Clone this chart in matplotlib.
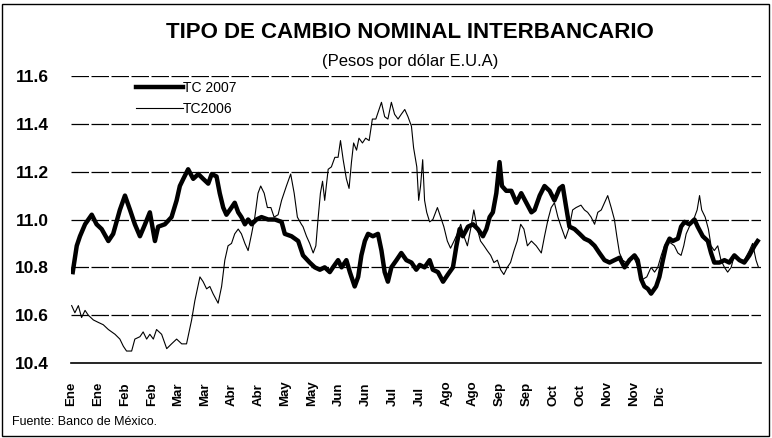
import matplotlib
matplotlib.use('Agg')
import matplotlib.pyplot as plt
from matplotlib.patches import Rectangle

# Dia habil (indice) y tipo de cambio
dias_2007 = [0.5, 2.0, 3.2, 5.1, 7.6, 9.4, 11.3, 13.8, 15.6, 18.1, 20.0, 21.9, 23.7, 25.6, 27.5,
             29.3, 31.2, 32.4, 34.9, 37.4, 39.3, 40.5, 41.8, 43.6, 45.5, 47.4, 49.2, 51.1, 52.4,
             54.2, 55.4, 56.7, 57.9, 59.8, 61.0, 62.3, 63.5, 64.8, 66.0, 67.3, 69.1, 71.0, 73.5,
             76.0, 78.5, 79.7, 82.2, 84.7, 86.5, 89.0, 90.9, 92.8, 94.6, 96.5, 97.7, 99.6, 100.9,
             102.7, 104.0, 105.8, 107.1, 108.3, 109.6, 110.8, 112.6, 114.5, 115.8, 117.0, 118.2,
             119.5, 121.4, 123.2, 125.1, 127.0, 128.8, 130.1, 131.9, 133.8, 135.0, 136.9, 138.8,
             140.6, 142.5, 143.8, 145.0, 146.2, 148.1, 150.0, 151.8, 153.7, 155.0, 156.2, 157.4,
             158.7, 159.9, 160.8, 162.4, 164.3, 166.2, 168.0, 169.9, 171.8, 173.0, 174.9, 176.7,
             178.6, 180.4, 182.3, 183.5, 184.8, 186.0, 187.9, 189.8, 191.6, 193.5, 195.4, 197.2,
             199.1, 201.0, 202.8, 204.7, 206.6, 208.4, 210.3, 211.5, 212.8, 214.0, 215.3, 216.5,
             218.4, 219.6, 220.9, 222.1, 223.4, 224.6, 226.5, 227.7, 229.0, 230.8, 232.7, 233.9,
             235.8, 237.7, 238.9, 240.1, 242.0, 243.9, 245.7, 247.6, 249.5, 251.3, 253.2, 255.1,
             256.3]
tc_2007 = [10.78, 10.89, 10.93, 10.98, 11.02, 10.98, 10.96, 10.91, 10.94, 11.04, 11.10, 11.04, 10.98,
           10.93, 10.98, 11.03, 10.91, 10.97, 10.98, 11.01, 11.08, 11.14, 11.17, 11.21, 11.17, 11.19,
           11.17, 11.15, 11.19, 11.18, 11.11, 11.05, 11.02, 11.05, 11.07, 11.03, 11.01, 10.98, 11.00,
           10.98, 11.00, 11.01, 11.00, 11.00, 10.99, 10.94, 10.93, 10.91, 10.85, 10.82, 10.80, 10.79,
           10.80, 10.78, 10.80, 10.83, 10.80, 10.83, 10.78, 10.72, 10.76, 10.85, 10.91, 10.94, 10.93,
           10.94, 10.87, 10.78, 10.74, 10.80, 10.83, 10.86, 10.83, 10.82, 10.79, 10.81, 10.80, 10.83,
           10.79, 10.78, 10.74, 10.77, 10.80, 10.89, 10.96, 10.93, 10.97, 10.98, 10.96, 10.93, 10.96,
           11.01, 11.03, 11.11, 11.24, 11.14, 11.12, 11.12, 11.07, 11.11, 11.07, 11.03, 11.04, 11.10,
           11.14, 11.12, 11.08, 11.13, 11.14, 11.05, 10.97, 10.96, 10.94, 10.92, 10.91, 10.89, 10.86,
           10.83, 10.82, 10.83, 10.84, 10.80, 10.83, 10.85, 10.83, 10.75, 10.72, 10.71, 10.69, 10.72,
           10.76, 10.83, 10.89, 10.92, 10.91, 10.92, 10.97, 10.99, 10.98, 11.00, 10.97, 10.93, 10.91,
           10.86, 10.82, 10.82, 10.83, 10.82, 10.85, 10.83, 10.82, 10.85, 10.89, 10.91]

dias_2006 = [0.1, 1.3, 2.6, 3.8, 5.1, 6.3, 8.2, 10.0, 11.9, 13.8, 16.3, 18.1, 19.4, 20.6, 22.5, 23.7,
             25.6, 26.8, 28.1, 29.3, 30.6, 31.8, 33.7, 35.6, 37.4, 39.3, 41.2, 43.0, 44.9, 46.1,
             48.0, 49.2, 50.5, 51.7, 52.9, 54.8, 56.1, 57.3, 58.5, 59.8, 61.0, 62.3, 63.5, 64.8,
             66.0, 67.3, 68.5, 69.7, 70.7, 72.0, 73.2, 74.5, 75.7, 77.2, 78.5, 80.3, 81.9, 83.2,
             84.4, 85.9, 86.5, 87.8, 89.0, 90.3, 91.3, 92.1, 93.0, 93.8, 94.6, 95.9, 97.1, 98.4,
             99.6, 100.5, 101.5, 102.7, 103.7, 104.6, 105.4, 106.5, 107.4, 108.7, 109.9, 111.2,
             112.4, 113.7, 114.9, 115.8, 117.0, 118.2, 119.5, 120.7, 122.0, 123.2, 124.5, 125.7,
             127.0, 127.8, 129.0, 129.7, 130.4, 131.2, 131.9, 132.7, 133.8, 135.0, 136.7, 137.9,
             139.1, 140.4, 141.6, 142.9, 144.1, 145.4, 146.6, 147.9, 149.1, 150.3, 151.6, 152.8,
             154.1, 155.3, 156.6, 157.8, 159.1, 160.3, 161.5, 162.8, 164.0, 165.3, 166.5, 167.8,
             169.0, 170.3, 171.8, 173.6, 175.5, 176.7, 178.0, 179.2, 180.4, 181.7, 182.9, 184.5,
             186.0, 187.2, 188.5, 190.3, 191.6, 192.8, 194.1, 195.4, 196.6, 197.9, 199.1, 200.3,
             201.6, 202.8, 203.7, 204.7, 205.9, 207.2, 208.4, 209.7, 210.9, 212.2, 213.4, 214.9,
             216.5, 217.8, 219.0, 220.3, 221.5, 222.7, 224.0, 225.2, 226.5, 227.7, 228.7, 229.6,
             230.8, 232.4, 233.7, 234.6, 235.4, 236.7, 237.9, 238.9, 240.1, 241.4, 242.6, 243.9,
             245.1, 246.4, 247.6, 249.5, 251.3, 253.2, 254.4, 255.7, 256.6]
tc_2006 = [10.64, 10.61, 10.64, 10.59, 10.62, 10.60, 10.58, 10.57, 10.56, 10.54, 10.52, 10.50, 10.47,
           10.45, 10.45, 10.50, 10.51, 10.53, 10.50, 10.52, 10.50, 10.54, 10.52, 10.46, 10.48, 10.50,
           10.48, 10.48, 10.58, 10.66, 10.76, 10.74, 10.71, 10.72, 10.69, 10.65, 10.72, 10.83, 10.89,
           10.90, 10.94, 10.96, 10.94, 10.90, 10.87, 10.94, 11.01, 11.11, 11.14, 11.11, 11.05, 11.05,
           11.01, 11.02, 11.08, 11.14, 11.19, 11.11, 11.01, 10.98, 10.97, 10.93, 10.90, 10.86, 10.89,
           11.00, 11.11, 11.16, 11.08, 11.21, 11.22, 11.26, 11.26, 11.33, 11.25, 11.17, 11.13, 11.24,
           11.32, 11.29, 11.34, 11.32, 11.34, 11.33, 11.42, 11.42, 11.46, 11.49, 11.43, 11.42, 11.49,
           11.44, 11.42, 11.44, 11.46, 11.43, 11.39, 11.30, 11.22, 11.08, 11.14, 11.25, 11.08, 11.03,
           10.99, 11.00, 11.05, 11.01, 10.97, 10.91, 10.88, 10.91, 10.94, 10.98, 10.93, 10.89, 10.96,
           11.04, 10.96, 10.91, 10.89, 10.87, 10.85, 10.82, 10.83, 10.79, 10.77, 10.80, 10.82, 10.87,
           10.91, 10.98, 10.96, 10.89, 10.91, 10.89, 10.86, 10.93, 11.00, 11.05, 11.07, 11.01, 10.97,
           10.92, 10.97, 11.04, 11.05, 11.06, 11.04, 11.03, 11.01, 10.98, 11.03, 11.04, 11.07, 11.10,
           11.05, 11.00, 10.93, 10.86, 10.83, 10.82, 10.82, 10.85, 10.82, 10.78, 10.75, 10.76, 10.80,
           10.78, 10.80, 10.85, 10.89, 10.91, 10.90, 10.89, 10.86, 10.85, 10.89, 10.94, 10.97, 11.00,
           11.04, 11.10, 11.04, 11.01, 10.96, 10.89, 10.87, 10.89, 10.83, 10.80, 10.78, 10.80, 10.85,
           10.83, 10.83, 10.87, 10.90, 10.83, 10.80]

meses = ['Ene', 'Ene', 'Feb', 'Feb', 'Mar', 'Mar', 'Abr', 'Abr', 'May', 'May', 'Jun', 'Jun',
         'Jul', 'Jul', 'Ago', 'Ago', 'Sep', 'Sep', 'Oct', 'Oct', 'Nov', 'Nov', 'Dic']
posiciones = [10 * i for i in range(len(meses))]
niveles = [10.4, 10.6, 10.8, 11.0, 11.2, 11.4, 11.6]

fig = plt.figure(figsize=(7.72, 4.38), dpi=100)
ax = fig.add_axes([71.4 / 772, 75 / 438, 690 / 772, 287 / 438])

ax.plot(dias_2007, tc_2007, color='black', lw=3.2, label='TC 2007', zorder=3)
ax.plot(dias_2006, tc_2006, color='black', lw=0.8, label='TC2006', zorder=2)

ax.set_xlim(0, 257.7)
ax.set_ylim(10.4, 11.6)
for v in niveles[1:]:
    ax.axhline(v, color='black', lw=0.9, dashes=(14, 2), zorder=1)

# primero los parametros de ticks, luego las propiedades de las etiquetas
ax.tick_params(axis='x', length=0, pad=31, labelrotation=90)
ax.tick_params(axis='y', length=0, pad=16)

ax.set_yticks(niveles)
ax.set_yticklabels([f'{v:.1f}' for v in niveles], fontsize=12.5, fontweight='bold',
                   fontfamily='Liberation Sans')
ax.set_xticks(posiciones)
ax.set_xticklabels(meses, fontsize=9.5, fontweight='bold', fontfamily='Liberation Sans',
                   rotation=90, rotation_mode='anchor', ha='left', va='center')

for s in ['top', 'right', 'left']:
    ax.spines[s].set_visible(False)
ax.spines['bottom'].set_linewidth(1.2)

leg = ax.legend(loc='upper left', bbox_to_anchor=(0.075, 1.025), frameon=False,
                handlelength=3.4, handletextpad=0.0, labelspacing=0.45,
                prop={'family': 'Liberation Sans', 'size': 10})

fig.text(0.531, 0.925, 'TIPO DE CAMBIO NOMINAL INTERBANCARIO', ha='center', va='center',
         fontsize=16, fontweight='bold', fontfamily='Liberation Sans')
fig.text(0.531, 0.86, '(Pesos por dólar E.U.A)', ha='center', va='center',
         fontsize=12, fontfamily='Liberation Sans')
fig.text(0.016, 0.036, 'Fuente: Banco de México.', ha='left', va='center',
         fontsize=9, fontfamily='Liberation Sans')

fig.patches.append(Rectangle((2 / 772, 2 / 438), 767 / 772, 432 / 438, transform=fig.transFigure,
                             fill=False, edgecolor='black', lw=1))

fig.savefig('out.png', dpi=100)
